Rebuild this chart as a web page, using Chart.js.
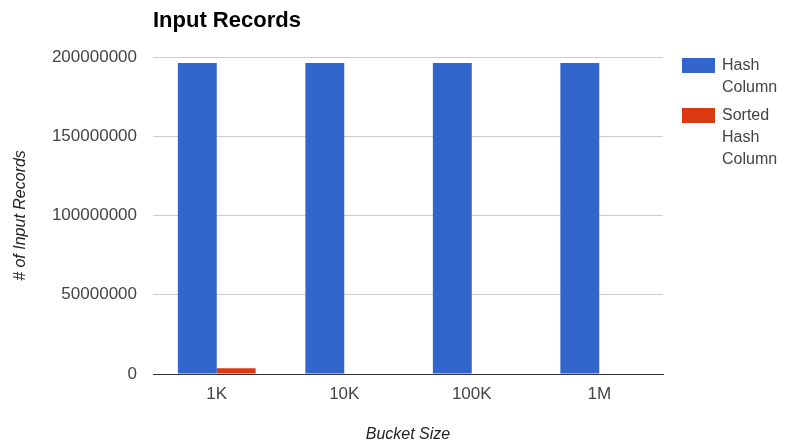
<!DOCTYPE html>
<html>
<head>
<meta charset="utf-8">
<script src="https://cdn.jsdelivr.net/npm/chart.js@4/dist/chart.umd.min.js"></script>
<style>
  html, body { margin: 0; padding: 0; background: #fff; }
  #wrap { position: relative; width: 785px; height: 444px; }
  canvas { display: block; }
  .legend { position: absolute; left: 682px; top: 54px; font-family: "Liberation Sans", Arial, sans-serif; font-size: 16px; color: #444; }
  .legend .item { position: relative; padding-left: 40px; line-height: 22px; margin-bottom: 6px; }
  .legend .sw { position: absolute; left: 0; top: 4px; width: 33px; height: 15px; }
</style>
</head>
<body>
<div id="wrap">
  <canvas id="c" width="785" height="444"></canvas>
  <div class="legend" id="legend"></div>
</div>
<script>
const categories = ["1K", "10K", "100K", "1M"];
const hashColumn = [196200000, 196200000, 196200000, 196200000];
const sortedHashColumn = [3600000, 0, 0, 0];
const seriesNames = [["Hash", "Column"], ["Sorted", "Hash", "Column"]];
const seriesColors = ["#3366cc", "#dc3912"];
const yTicks = [0, 50000000, 100000000, 150000000, 200000000];

const FONT = '"Liberation Sans", Arial, sans-serif';

// Chart title drawn flush with the left edge of the plot area
const titlePlugin = {
  id: 'leftTitle',
  afterDraw(chart) {
    const ctx = chart.ctx;
    ctx.save();
    ctx.font = 'bold 22px ' + FONT;
    ctx.fillStyle = '#000';
    ctx.textBaseline = 'middle';
    ctx.textAlign = 'left';
    ctx.fillText('Input Records', chart.chartArea.left, 21);
    ctx.restore();
  }
};

new Chart(document.getElementById('c'), {
  type: 'bar',
  data: {
    labels: categories,
    datasets: [
      { label: seriesNames[0].join(' '), data: hashColumn, backgroundColor: seriesColors[0] },
      { label: seriesNames[1].join(' '), data: sortedHashColumn, backgroundColor: seriesColors[1] }
    ]
  },
  options: {
    responsive: false,
    animation: false,
    layout: { padding: { top: 57, right: 122, left: 0, bottom: 0 } },
    datasets: { bar: { categoryPercentage: 0.61, barPercentage: 1.0 } },
    plugins: { legend: { display: false }, tooltip: { enabled: false } },
    scales: {
      x: {
        grid: { display: false, drawTicks: false },
        border: { color: '#333', width: 1 },
        ticks: { color: '#444', font: { family: FONT, size: 17 }, padding: 10 },
        title: { display: true, text: 'Bucket Size', color: '#222', font: { family: FONT, size: 16, style: 'italic' }, padding: { top: 0, bottom: 0 } },
        afterFit(scale) { scale.height = 70; }
      },
      y: {
        min: 0, max: 200000000,
        afterBuildTicks(scale) { scale.ticks = yTicks.map(v => ({ value: v })); },
        grid: { color: '#cccccc', drawTicks: false },
        border: { display: false },
        ticks: {
          color: '#444', font: { family: FONT, size: 17 }, padding: 16,
          callback: v => String(v)
        },
        title: { display: true, text: '# of Input Records', color: '#222', font: { family: FONT, size: 16, style: 'italic' }, padding: { top: 11, bottom: 0 } },
        afterFit(scale) { scale.width = 153; }
      }
    }
  },
  plugins: [titlePlugin]
});

// Wrapped legend entries beside the plot
const legend = document.getElementById('legend');
seriesNames.forEach((lines, i) => {
  const item = document.createElement('div');
  item.className = 'item';
  const sw = document.createElement('span');
  sw.className = 'sw';
  sw.style.background = seriesColors[i];
  item.appendChild(sw);
  lines.forEach((line, j) => {
    if (j > 0) item.appendChild(document.createElement('br'));
    item.appendChild(document.createTextNode(line));
  });
  legend.appendChild(item);
});
</script>
</body>
</html>
